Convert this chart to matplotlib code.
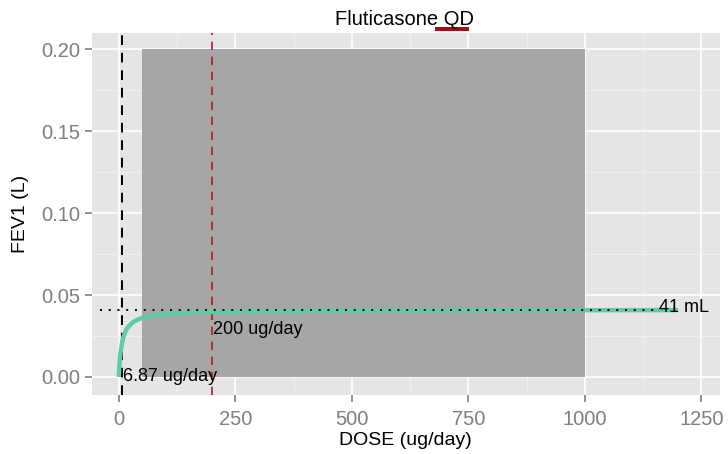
import matplotlib.pyplot as plt
import matplotlib.ticker as ticker

plt.rcParams['font.family'] = ['Liberation Sans', 'DejaVu Sans']

# model curve
dose = [0, 1, 2, 4, 7, 10, 15, 20, 30, 40, 50, 75, 100, 150, 200, 300, 400, 600, 800, 1000, 1200]
fev1 = [0.0, 0.0052, 0.0092, 0.0151, 0.0207, 0.0243, 0.0282, 0.0305, 0.0333, 0.0349, 0.0360,
        0.0375, 0.0383, 0.0392, 0.0396, 0.0400, 0.0403, 0.0405, 0.0407, 0.0407, 0.0408]

ed50 = 6.87          # ug/day
dose_ref = 200       # ug/day
emax = 0.041         # L
box_x = [50, 1000]
box_y = [0.0, 0.20]

xticks = [0, 250, 500, 750, 1000, 1250]
yticks = [0.00, 0.05, 0.10, 0.15, 0.20]

fig = plt.figure(figsize=(7.28, 4.54), dpi=100)
ax = fig.add_axes([0.126, 0.130, 0.863, 0.797])
ax.set_facecolor('#e5e5e5')

# grid
ax.xaxis.set_minor_locator(ticker.MultipleLocator(125))
ax.yaxis.set_minor_locator(ticker.MultipleLocator(0.025))
ax.grid(which='major', color='white', linewidth=1.2)
ax.grid(which='minor', color='#f2f2f2', linewidth=0.6)
ax.set_axisbelow(True)
for s in ax.spines.values():
    s.set_visible(False)

ax.fill_between(box_x, box_y[0], box_y[1], color='#a6a6a6', linewidth=0, zorder=2)

ax.axvline(ed50, color='black', linestyle=(0, (5, 4)), linewidth=1.4, zorder=3)
ax.axvline(dose_ref, color='#b31b1b', linestyle=(0, (5, 4)), linewidth=1.2, zorder=3)

ax.plot(dose, fev1, color='#5fcca6', linewidth=3.2, solid_capstyle='butt', zorder=4)
ax.plot([-40, 1160], [emax, emax], color='black', linestyle=(0, (1, 3.5)), linewidth=1.4, zorder=5)

ax.text(ed50 + 3, 0.0, '6.87 ug/day', fontsize=13, ha='left', va='center', zorder=6)
ax.text(dose_ref + 2, 0.029, '200 ug/day', fontsize=13, ha='left', va='center', zorder=6)
ax.text(1160, emax + 0.0015, '41 mL', fontsize=13, ha='left', va='center', zorder=6)

ax.set_xlim(-58, 1290)
ax.set_ylim(-0.011, 0.2098)
ax.set_xticks(xticks)
ax.set_yticks(yticks)
ax.set_yticklabels(['%.2f' % v for v in yticks])
ax.tick_params(which='major', colors='#7f7f7f', labelsize=14.5, length=5, width=1.2, pad=3)
ax.tick_params(axis='x', which='major', pad=6)
ax.tick_params(which='minor', length=0)

ax.set_xlabel('DOSE (ug/day)', fontsize=14, labelpad=2)
ax.set_ylabel('FEV1 (L)', fontsize=14, labelpad=9)

fig.text(0.556, 0.958, 'Fluticasone QD', fontsize=14.5, ha='center', va='center')
fig.patches.append(plt.Rectangle((0.597, 0.931), 0.047, 0.009, transform=fig.transFigure,
                                 color='#a01010', linewidth=0))

fig.savefig('out.png', dpi=100)
